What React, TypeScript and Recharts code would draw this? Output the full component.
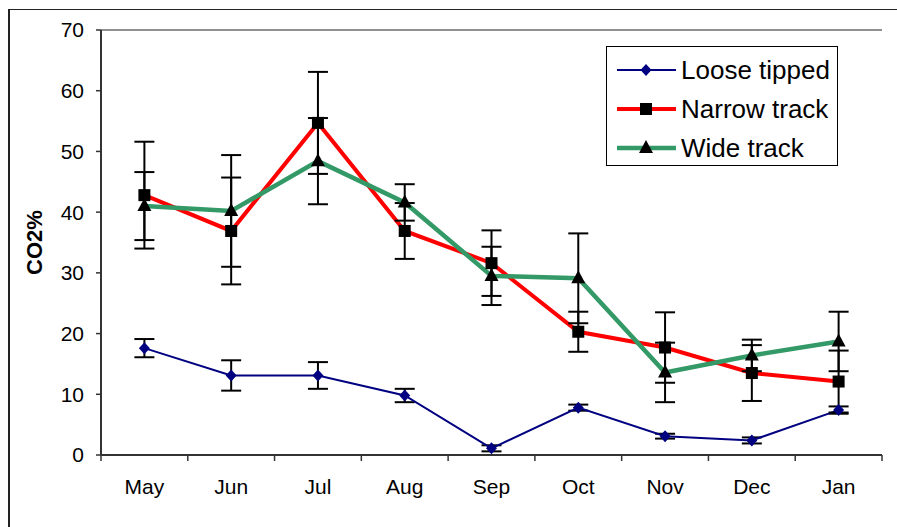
import React from "react";
import {
  CartesianGrid,
  ErrorBar,
  Legend,
  Line,
  LineChart,
  XAxis,
  YAxis,
} from "recharts";

const months = ["May", "Jun", "Jul", "Aug", "Sep", "Oct", "Nov", "Dec", "Jan"];

const loose = [17.6, 13.1, 13.1, 9.8, 1.1, 7.8, 3.1, 2.4, 7.4];
const looseErr = [1.5, 2.5, 2.2, 1.1, 0.5, 0.5, 0.4, 0.5, 0.6];

const narrow = [42.8, 36.9, 54.7, 36.9, 31.6, 20.3, 17.7, 13.5, 12.1];
const narrowErr = [8.8, 8.8, 8.4, 4.6, 5.4, 3.3, 5.8, 4.6, 5.1];

const wide = [41.0, 40.2, 48.4, 41.6, 29.5, 29.1, 13.6, 16.4, 18.7];
const wideErr = [5.6, 9.2, 7.1, 3.0, 4.8, 7.4, 4.9, 2.6, 4.9];

const yTicks = [0, 10, 20, 30, 40, 50, 60, 70];

// x is numeric so the tick marks can sit on the category boundaries
const data = months.map((m, i) => ({
  x: i + 0.5,
  month: m,
  loose: loose[i],
  looseErr: looseErr[i],
  narrow: narrow[i],
  narrowErr: narrowErr[i],
  wide: wide[i],
  wideErr: wideErr[i],
}));

const xTicks = [
  ...months.map((_, i) => i),
  months.length,
  ...months.map((_, i) => i + 0.5),
].sort((a, b) => a - b);

const FONT = "'Liberation Sans', Arial, sans-serif";

const diamond = (cx: number, cy: number, fill: string) => (
  <path
    d={`M${cx},${cy - 6}L${cx + 5.5},${cy}L${cx},${cy + 6}L${cx - 5.5},${cy}Z`}
    fill={fill}
  />
);
const square = (cx: number, cy: number) => (
  <rect x={cx - 6} y={cy - 6} width={12} height={12} fill="#000" />
);
const triangle = (cx: number, cy: number) => (
  <path d={`M${cx},${cy - 8}L${cx + 7},${cy + 5}L${cx - 7},${cy + 5}Z`} fill="#000" />
);

const series = [
  { key: "loose", name: "Loose tipped", color: "#000080", width: 2, marker: "diamond" },
  { key: "narrow", name: "Narrow track", color: "#FF0000", width: 4, marker: "square" },
  { key: "wide", name: "Wide track", color: "#339966", width: 4.5, marker: "triangle" },
];

const drawMarker = (kind: string, cx: number, cy: number) => {
  if (kind === "diamond") return diamond(cx, cy, "#000080");
  if (kind === "square") return square(cx, cy);
  return triangle(cx, cy);
};

const MonthTick = (props: any) => {
  const { x, y, payload } = props;
  const v = payload.value;
  if (Number.isInteger(v)) {
    return <line x1={x} x2={x} y1={y} y2={y + 6} stroke="#333" strokeWidth={1.5} />;
  }
  return (
    <text x={x} y={y + 24} dy="0.71em" textAnchor="middle" fontSize={21} fill="#000" fontFamily={FONT}>
      {months[Math.floor(v)]}
    </text>
  );
};

const LegendBox = () => (
  <div
    style={{
      width: 232,
      height: 120,
      boxSizing: "border-box",
      border: "1px solid #000",
      background: "#fff",
      paddingTop: 3,
      fontFamily: FONT,
    }}
  >
    {series.map((s) => (
      <div key={s.key} style={{ height: 39, display: "flex", alignItems: "center" }}>
        <svg width={70} height={20} style={{ marginLeft: 9, flex: "none" }}>
          <line x1={1} x2={60} y1={10} y2={10} stroke={s.color} strokeWidth={s.width} />
          {drawMarker(s.marker, 30, 10)}
        </svg>
        <span style={{ fontSize: 26, color: "#000", marginLeft: -5, lineHeight: "26px" }}>{s.name}</span>
      </div>
    ))}
  </div>
);

const App = () => {
  return (
    <div style={{ position: "fixed", left: 0, top: 0, width: 897, height: 527, overflow: "hidden", background: "#fff" }}>
      <div
        style={{
          position: "absolute",
          left: 8,
          top: 9,
          width: 1000,
          height: 1000,
          borderTop: "1px solid #222",
          borderLeft: "2px solid #222",
        }}
      />
      <LineChart
        width={897}
        height={527}
        data={data}
        margin={{ top: 30, right: 15, left: 11, bottom: 12 }}
        style={{ position: "absolute", left: 0, top: 0 }}
      >
        <CartesianGrid horizontal vertical={false} stroke="#222" strokeWidth={1} />
        <XAxis
          dataKey="x"
          type="number"
          domain={[0, months.length]}
          ticks={xTicks}
          interval={0}
          tick={<MonthTick />}
          tickLine={false}
          tickSize={0}
          tickMargin={0}
          height={60}
          axisLine={{ stroke: "#333", strokeWidth: 2 }}
        />
        <YAxis
          yAxisId="left"
          domain={[0, 70]}
          ticks={yTicks}
          interval={0}
          width={90}
          tickSize={5}
          tickMargin={12}
          tick={{ fill: "#000", fontSize: 21, fontFamily: FONT }}
          tickLine={{ stroke: "#333", strokeWidth: 1.5 }}
          axisLine={{ stroke: "#333", strokeWidth: 2 }}
          label={{
            content: (p: any) => {
              const vb = p.viewBox || {};
              const cx = vb.x + 23;
              const cy = vb.y + vb.height / 2;
              return (
                <text
                  x={cx}
                  y={cy}
                  transform={`rotate(-90 ${cx} ${cy})`}
                  textAnchor="middle"
                  dominantBaseline="central"
                  fontSize={22}
                  fontWeight="bold"
                  fontFamily={FONT}
                  fill="#000"
                >
                  CO2%
                </text>
              );
            },
          }}
        />
        <YAxis
          yAxisId="right"
          orientation="right"
          domain={[0, 70]}
          width={0}
          tick={false}
          tickLine={false}
          axisLine={{ stroke: "#888", strokeWidth: 1.5 }}
        />
        <Legend
          layout="horizontal"
          align="center"
          verticalAlign="middle"
          content={() => <LegendBox />}
          wrapperStyle={{ left: 606, top: 46, width: 232, height: 120, margin: 0 }}
        />
        {series.map((s) => (
          <Line
            key={s.key}
            yAxisId="left"
            dataKey={s.key}
            name={s.name}
            stroke={s.color}
            strokeWidth={s.width}
            isAnimationActive={false}
            dot={(p: any) => <g key={`${s.key}-${p.index}`}>{drawMarker(s.marker, p.cx, p.cy)}</g>}
            activeDot={false}
          >
            <ErrorBar
              dataKey={`${s.key}Err`}
              direction="y"
              width={10}
              stroke="#000"
              strokeWidth={2}
              isAnimationActive={false}
            />
          </Line>
        ))}
      </LineChart>
    </div>
  );
};

export default App;
